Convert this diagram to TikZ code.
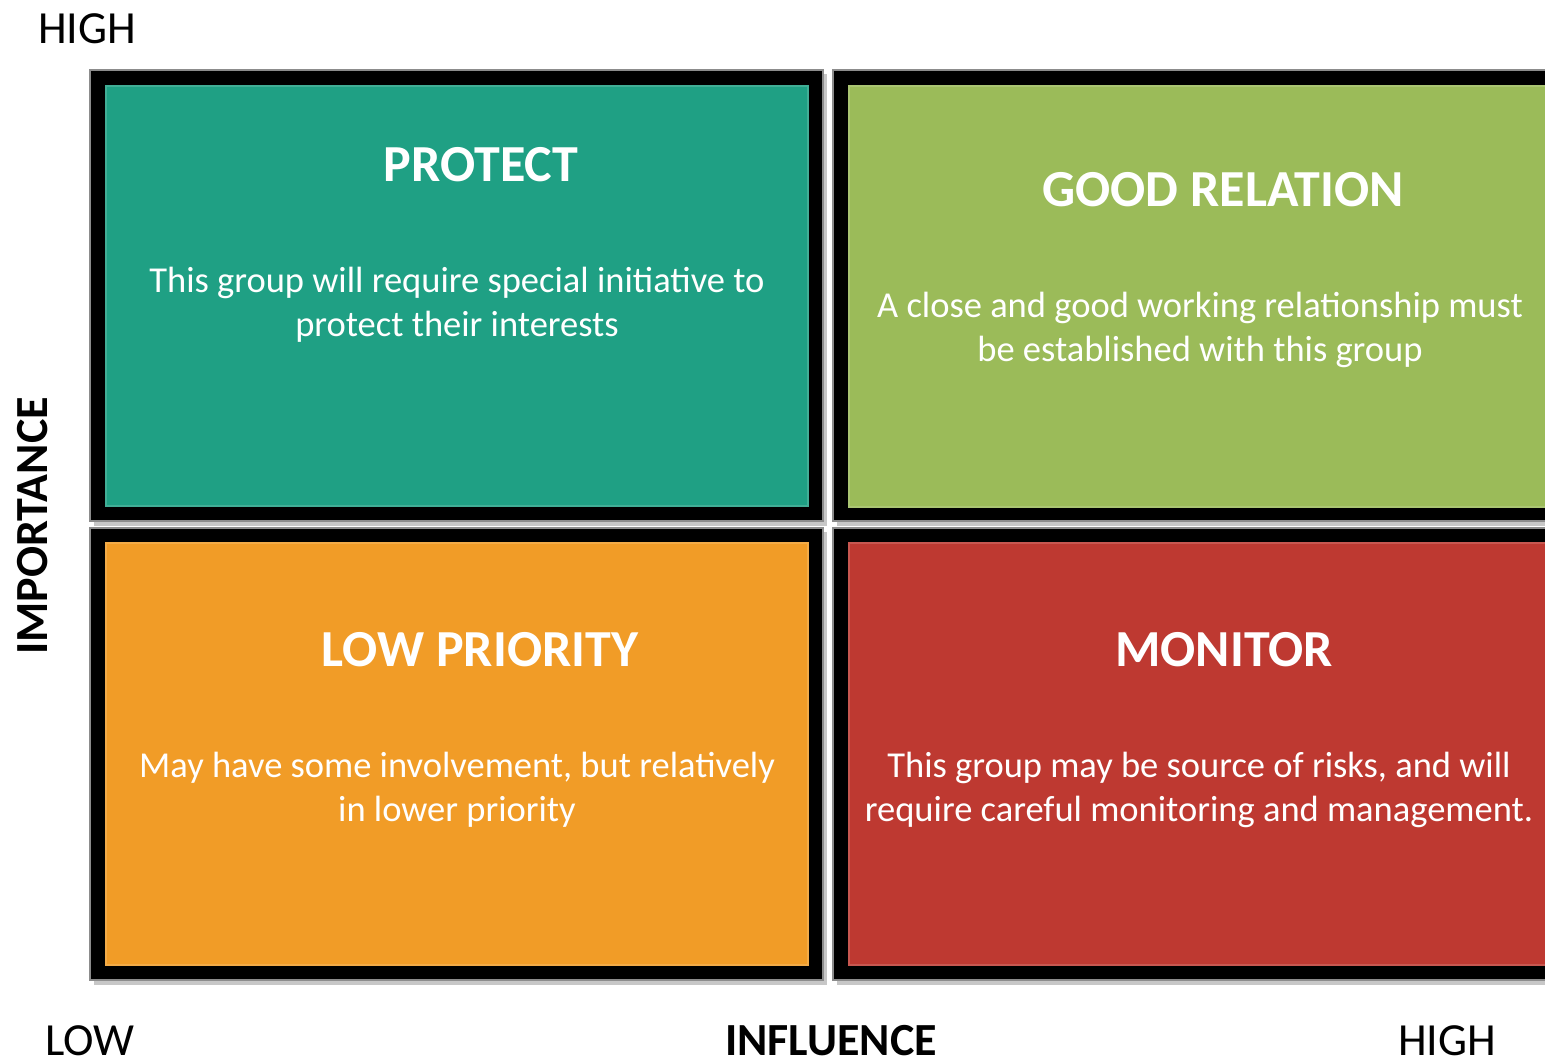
\documentclass[tikz,border=0pt]{standalone}
\usepackage{fontspec}
\setmainfont{Carlito}
\definecolor{qteal}{HTML}{1FA084}
\definecolor{qgreen}{HTML}{9BBB59}
\definecolor{qorange}{HTML}{F19C27}
\definecolor{qred}{HTML}{BE3931}
\begin{document}
\begin{tikzpicture}[x=1pt,y=-1pt,
  framebox/.style={fill=black,draw=black!45,line width=2.5pt},
  shade/.style={fill=black!22},
  title/.style={text=white,font=\fontsize{52}{60}\selectfont\bfseries,anchor=center,inner sep=0pt},
  body/.style={text=white,font=\fontsize{36.5}{44}\selectfont,align=center,anchor=center,inner sep=0pt},
  axislabel/.style={font=\fontsize{46}{50}\selectfont,inner sep=0pt,text depth=0pt},
  axisbold/.style={font=\fontsize{46}{50}\selectfont\bfseries,inner sep=0pt,text depth=0pt}]
\useasboundingbox (0,0) rectangle (1545,1061);
\clip (0,0) rectangle (1545,1061);
\fill[white] (0,0) rectangle (1545,1061);
% shadows
\fill[shade] (94,74) rectangle (827,526);
\fill[shade] (837,74) rectangle (1580,526);
\fill[shade] (94,532) rectangle (827,985);
\fill[shade] (837,532) rectangle (1580,985);
% black frames
\path[framebox] (90,70) rectangle (823,521);
\path[framebox] (833,70) rectangle (1580,521);
\path[framebox] (90,528) rectangle (823,980);
\path[framebox] (833,528) rectangle (1580,980);
% coloured panels
\path[fill=qteal,draw=qteal!85!white,line width=2pt] (106,86) rectangle (808,506);
\path[fill=qgreen,draw=qgreen!85!white,line width=2pt] (849,86) rectangle (1551,507);
\path[fill=qorange,draw=qorange!85!white,line width=2pt] (106,543) rectangle (808,965);
\path[fill=qred,draw=qred!85!white,line width=2pt] (849,543) rectangle (1551,965);
% titles
\node[title] (tprotect) at (481,165) {PROTECT};
\node[title] (tgood) at (1223,190) {GOOD RELATION};
\node[title] (tlow) at (480,650) {LOW PRIORITY};
\node[title] (tmon) at (1224,650) {MONITOR};
% bodies
\node[body] (bprotect) at (457,305) {This group will require special initiative to\\protect their interests};
\node[body] (bgood) at (1200,330) {A close and good working relationship must\\be established with this group};
\node[body] (blow) at (457,790) {May have some involvement, but relatively\\in lower priority};
\node[body] (bmon) at (1199,790) {This group may be source of risks, and will\\require careful monitoring and management.};
% axis labels
\node[axislabel,anchor=base west] (yhigh) at (38,43) {HIGH};
\node[axislabel,anchor=base west] (xlow) at (45,1055) {LOW};
\node[axisbold,anchor=base] (xlab) at (831,1055) {INFLUENCE};
\node[axislabel,anchor=base west] (xhigh) at (1398,1055) {HIGH};
\node[axisbold,rotate=90,anchor=center] (ylab) at (32,526) {IMPORTANCE};
\end{tikzpicture}
\end{document}
